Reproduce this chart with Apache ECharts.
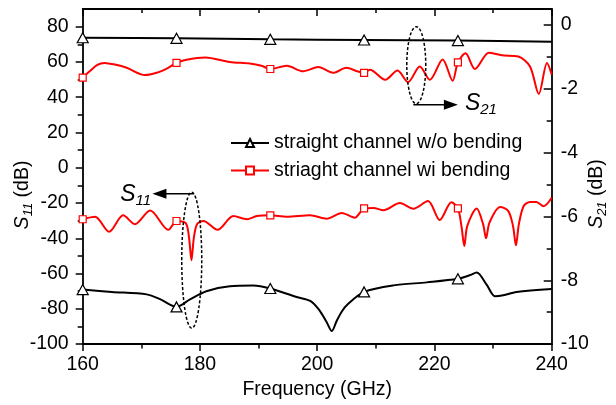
<!DOCTYPE html>
<html><head><meta charset="utf-8">
<script src="https://cdn.jsdelivr.net/npm/echarts@6/dist/echarts.min.js"></script>
<style>html,body{margin:0;padding:0;background:#fff}#c{width:616px;height:405px}</style>
</head><body><div id="c"></div>
<script>
const FONT = '"Liberation Sans", Arial, Helvetica, sans-serif';

// ---- ticks ----
const xTicks = [160, 180, 200, 220, 240];
const leftTicks = [-100, -80, -60, -40, -20, 0, 20, 40, 60, 80];
const leftMinor = [-90, -70, -50, -30, -10, 10, 30, 50, 70];
const rightTicks = [-10, -8, -6, -4, -2, 0];
const rightMinor = [-9, -7, -5, -3, -1];
const markerFreqs = [160, 176, 192, 208, 224];
const seriesNames = ['straight channel w/o bending', 'striaght channel wi bending'];

// ---- S21 (right axis) ----
const s21StraightFreq = [160, 176, 192, 208, 224, 240];
const s21StraightVal = [-0.40, -0.42, -0.45, -0.47, -0.49, -0.53];

const s21BentFreq = [160, 161.2, 162.5, 163.7, 165.5, 167.5, 170.6, 172.6, 174.5, 176, 177.7, 180.9, 185.1, 188.5, 190.5, 192,
  194.8, 197.6, 200.2, 202.7, 205, 206.8, 208, 209, 211.6, 213.7, 215.5, 217.5, 219.2, 221.4, 223.1, 224,
  225.3, 226.9, 229.3, 231.5, 234.3, 236.3, 237.8, 239.2, 240];
const s21BentVal = [-1.65, -1.45, -1.25, -1.19, -1.24, -1.34, -1.57, -1.50, -1.35, -1.19, -1.09, -1.02, -1.16, -1.21, -1.28, -1.38,
  -1.28, -1.45, -1.32, -1.50, -1.34, -1.45, -1.50, -1.40, -1.72, -1.43, -1.79, -1.30, -1.72, -1.08, -1.75, -1.17,
  -0.89, -1.38, -0.87, -0.95, -0.99, -1.30, -2.16, -1.19, -1.55];

// ---- S11 (left axis) ----
const s11StraightFreq = [160, 165, 170.9, 173.2, 176, 178.3, 181.1, 185.1, 189.1, 192, 196.5, 198.8, 200.3, 201.6, 202.5,
  203.3, 204.2, 205.2, 208, 213, 218.7, 224, 226, 227.2, 228.9, 230.3, 231.5, 234, 240];
const s11StraightVal = [-69.1, -70.4, -71.8, -74.5, -78.9, -74.6, -70, -67.2, -66.8, -68.5, -73.3, -75.5, -80.5, -87.5, -92.6,
  -87, -81.5, -77.4, -70.4, -66.7, -65, -63, -61, -59.4, -66.3, -72.8, -72.5, -70.4, -68.7];

const s11BentFreq = [160, 162.1, 164.5, 166.9, 168.9, 171.5, 174.6, 176, 177.6, 178.15, 178.55, 178.95, 179.5, 180.6, 183,
  185.7, 188, 189.7, 192, 194.8, 198.8, 201.6, 204.2, 206.4, 208, 209.6, 211.3, 214.1, 216.4, 218.9, 220.9, 222.9, 224,
  224.6, 225.1, 225.6, 227.2, 228.3, 228.8, 229.4, 231.2, 232.6, 233.4, 233.9, 234.4, 235.2, 236.3, 237.4, 238.6, 240];
const s11BentVal = [-29.2, -27.8, -36.3, -27, -32, -24.2, -35.2, -30.2, -31.5, -40, -52.4, -40, -32, -30.2, -35.2,
  -27.4, -29.2, -27.4, -27, -27.8, -27, -28.9, -25.6, -28.3, -23.1, -22.8, -24.1, -20, -23.3, -18.9, -29.6, -19.6, -23.1,
  -33, -44.4, -33, -23.1, -32, -40, -31, -22.2, -24.6, -33, -44, -32, -21.8, -19.4, -19.4, -21.8, -17];

// ---- annotation anchors (data coordinates) ----
const s11Note = { ellipse: [178.6, -52.4], arrowFrom: [179.0, -14.7], arrowTo: [171.9, -14.7], label: [166.4, -15.2] };
const s21Note = { ellipse: [216.9, -1.26], arrowFrom: [216.4, -2.5], arrowTo: [224.0, -2.5], label: [225.2, -2.47] };

const zip = (f, v) => f.map((x, i) => [x, v[i]]);
const isMarker = (val) => markerFreqs.indexOf(val[0]) >= 0;

const chart = echarts.init(document.getElementById('c'), null, { renderer: 'canvas' });
const lineAxis = { color: '#000', width: 1.8 };
const tickLine = { color: '#000', width: 1.5 };
const labelStyle = { fontSize: 19.5, fontFamily: FONT, color: '#000' };

const option = {
  animation: false,
  backgroundColor: '#fff',
  grid: { left: 82.7, right: 64.3, top: 9, bottom: 53.3, containLabel: false },
  xAxis: [
    { type: 'value', position: 'bottom', min: 160, max: 240, interval: 20,
      axisLine: { show: true, onZero: false, lineStyle: lineAxis },
      axisTick: { show: true, inside: false, length: 7, lineStyle: tickLine },
      minorTick: { show: true, splitNumber: 2, length: 4.5, lineStyle: tickLine },
      axisLabel: Object.assign({ margin: 11, customValues: xTicks }, labelStyle),
      splitLine: { show: false }, minorSplitLine: { show: false },
      name: 'Frequency (GHz)', nameLocation: 'middle', nameGap: 30,
      nameTextStyle: { fontSize: 19.5, fontFamily: FONT, color: '#000' } },
    { type: 'value', position: 'top', min: 160, max: 240, interval: 20,
      axisLine: { show: true, onZero: false, lineStyle: lineAxis },
      axisTick: { show: true, inside: true, length: 7, lineStyle: tickLine },
      minorTick: { show: true, splitNumber: 2, length: 4, lineStyle: tickLine },
      axisLabel: { show: false }, splitLine: { show: false } }
  ],
  yAxis: [
    { type: 'value', position: 'left', min: -100, max: 90, interval: 20,
      axisLine: { show: true, onZero: false, lineStyle: lineAxis },
      axisTick: { show: true, inside: false, length: 7, customValues: leftTicks, lineStyle: tickLine },
      axisLabel: Object.assign({ margin: 14, customValues: leftTicks }, labelStyle),
      splitLine: { show: false } },
    { type: 'value', position: 'right', min: -10, max: 0.5, interval: 2,
      axisLine: { show: true, onZero: false, lineStyle: lineAxis },
      axisTick: { show: true, inside: true, length: 8, customValues: rightTicks, lineStyle: tickLine },
      axisLabel: Object.assign({ margin: 9, customValues: rightTicks }, labelStyle),
      splitLine: { show: false } },
    { type: 'value', position: 'left', min: -100, max: 90, interval: 10,
      axisLine: { show: false },
      axisTick: { show: true, inside: false, length: 5, customValues: leftMinor, lineStyle: tickLine },
      axisLabel: { show: false, customValues: leftMinor }, splitLine: { show: false } },
    { type: 'value', position: 'right', min: -10, max: 0.5, interval: 1,
      axisLine: { show: false },
      axisTick: { show: true, inside: true, length: 5, customValues: rightMinor, lineStyle: tickLine },
      axisLabel: { show: false, customValues: rightMinor }, splitLine: { show: false } }
  ],
  legend: {
    data: seriesNames, orient: 'vertical', left: 230, top: 133, padding: 0,
    itemWidth: 38, itemHeight: 10, itemGap: 7.4, selectedMode: false,
    textStyle: { fontSize: 19.5, fontFamily: FONT, color: '#000', lineHeight: 20 }
  },
  series: [
    { name: seriesNames[0], type: 'line', xAxisIndex: 0, yAxisIndex: 1, silent: true,
      data: zip(s21StraightFreq, s21StraightVal), smooth: 0.3,
      symbol: 'triangle', symbolSize: (v) => isMarker(v) ? [11, 10] : 0,
      lineStyle: { color: '#000', width: 2 },
      itemStyle: { color: '#fff', borderColor: '#000', borderWidth: 1.2 } },
    { name: seriesNames[1], type: 'line', xAxisIndex: 0, yAxisIndex: 1, silent: true,
      data: zip(s21BentFreq, s21BentVal), smooth: 0.3,
      symbol: 'rect', symbolSize: (v) => isMarker(v) ? 7 : 0,
      lineStyle: { color: '#ff0000', width: 2 },
      itemStyle: { color: '#fff', borderColor: '#ff0000', borderWidth: 1.2 } },
    { name: seriesNames[0], type: 'line', xAxisIndex: 0, yAxisIndex: 0, silent: true,
      data: zip(s11StraightFreq, s11StraightVal), smooth: 0.3,
      symbol: 'triangle', symbolSize: (v) => isMarker(v) ? [11, 10] : 0,
      lineStyle: { color: '#000', width: 2 },
      itemStyle: { color: '#fff', borderColor: '#000', borderWidth: 1.2 } },
    { name: seriesNames[1], type: 'line', xAxisIndex: 0, yAxisIndex: 0, silent: true,
      data: zip(s11BentFreq, s11BentVal), smooth: 0.3,
      symbol: 'rect', symbolSize: (v) => isMarker(v) ? 7 : 0,
      lineStyle: { color: '#ff0000', width: 2 },
      itemStyle: { color: '#fff', borderColor: '#ff0000', borderWidth: 1.2 } }
  ]
};
chart.setOption(option);

// ---- annotations placed through the axes ----
const L = (p) => chart.convertToPixel({ xAxisIndex: 0, yAxisIndex: 0 }, p);
const R = (p) => chart.convertToPixel({ xAxisIndex: 0, yAxisIndex: 1 }, p);
const dashStyle = { fill: 'none', stroke: '#000', lineWidth: 1.5, lineDash: [3, 2] };
function arrow(from, to) {
  const dir = Math.sign(to[0] - from[0]);
  return [
    { type: 'line', shape: { x1: from[0], y1: from[1], x2: to[0] - dir * 10, y2: to[1] }, style: { stroke: '#000', lineWidth: 1.5 } },
    { type: 'polygon', shape: { points: [[to[0], to[1]], [to[0] - dir * 14, to[1] - 5], [to[0] - dir * 14, to[1] + 5]] }, style: { fill: '#000' } }
  ];
}
const subRich = (size, sub) => ({
  s: { fontSize: size, fontStyle: 'italic', fontFamily: FONT, lineHeight: size + 4, fill: '#000' },
  sub: { fontSize: sub, fontStyle: 'italic', fontFamily: FONT, lineHeight: sub, verticalAlign: 'bottom', fill: '#000' },
  n: { fontSize: size, fontFamily: FONT, lineHeight: size + 4, fill: '#000' }
});
const e11 = L(s11Note.ellipse), e21 = R(s21Note.ellipse);
const lab11 = L(s11Note.label), lab21 = R(s21Note.label);
const graphics = [
  { type: 'ellipse', shape: { cx: e11[0], cy: e11[1], rx: 10, ry: 68 }, style: dashStyle, z: 100 },
  { type: 'ellipse', shape: { cx: e21[0], cy: e21[1], rx: 9.5, ry: 38.5 }, style: dashStyle, z: 100 },
  ...arrow(L(s11Note.arrowFrom), L(s11Note.arrowTo)),
  ...arrow(R(s21Note.arrowFrom), R(s21Note.arrowTo)),
  { type: 'text', x: lab11[0], y: lab11[1], style: { text: '{s|S}{sub|11}', rich: subRich(23, 15), align: 'left', verticalAlign: 'middle' } },
  { type: 'text', x: lab21[0], y: lab21[1], style: { text: '{s|S}{sub|21}', rich: subRich(23, 15), align: 'left', verticalAlign: 'middle' } },
  { type: 'text', x: 23, y: 195, rotation: Math.PI / 2, style: { text: '{s|S}{sub|11}{n| (dB)}', rich: subRich(19.5, 13), align: 'center', verticalAlign: 'middle' } },
  { type: 'text', x: 597, y: 194, rotation: Math.PI / 2, style: { text: '{s|S}{sub|21}{n| (dB)}', rich: subRich(19.5, 13), align: 'center', verticalAlign: 'middle' } }
];
chart.setOption({ graphic: graphics.map(g => Object.assign({ silent: true }, g)) });
</script>
</body></html>
